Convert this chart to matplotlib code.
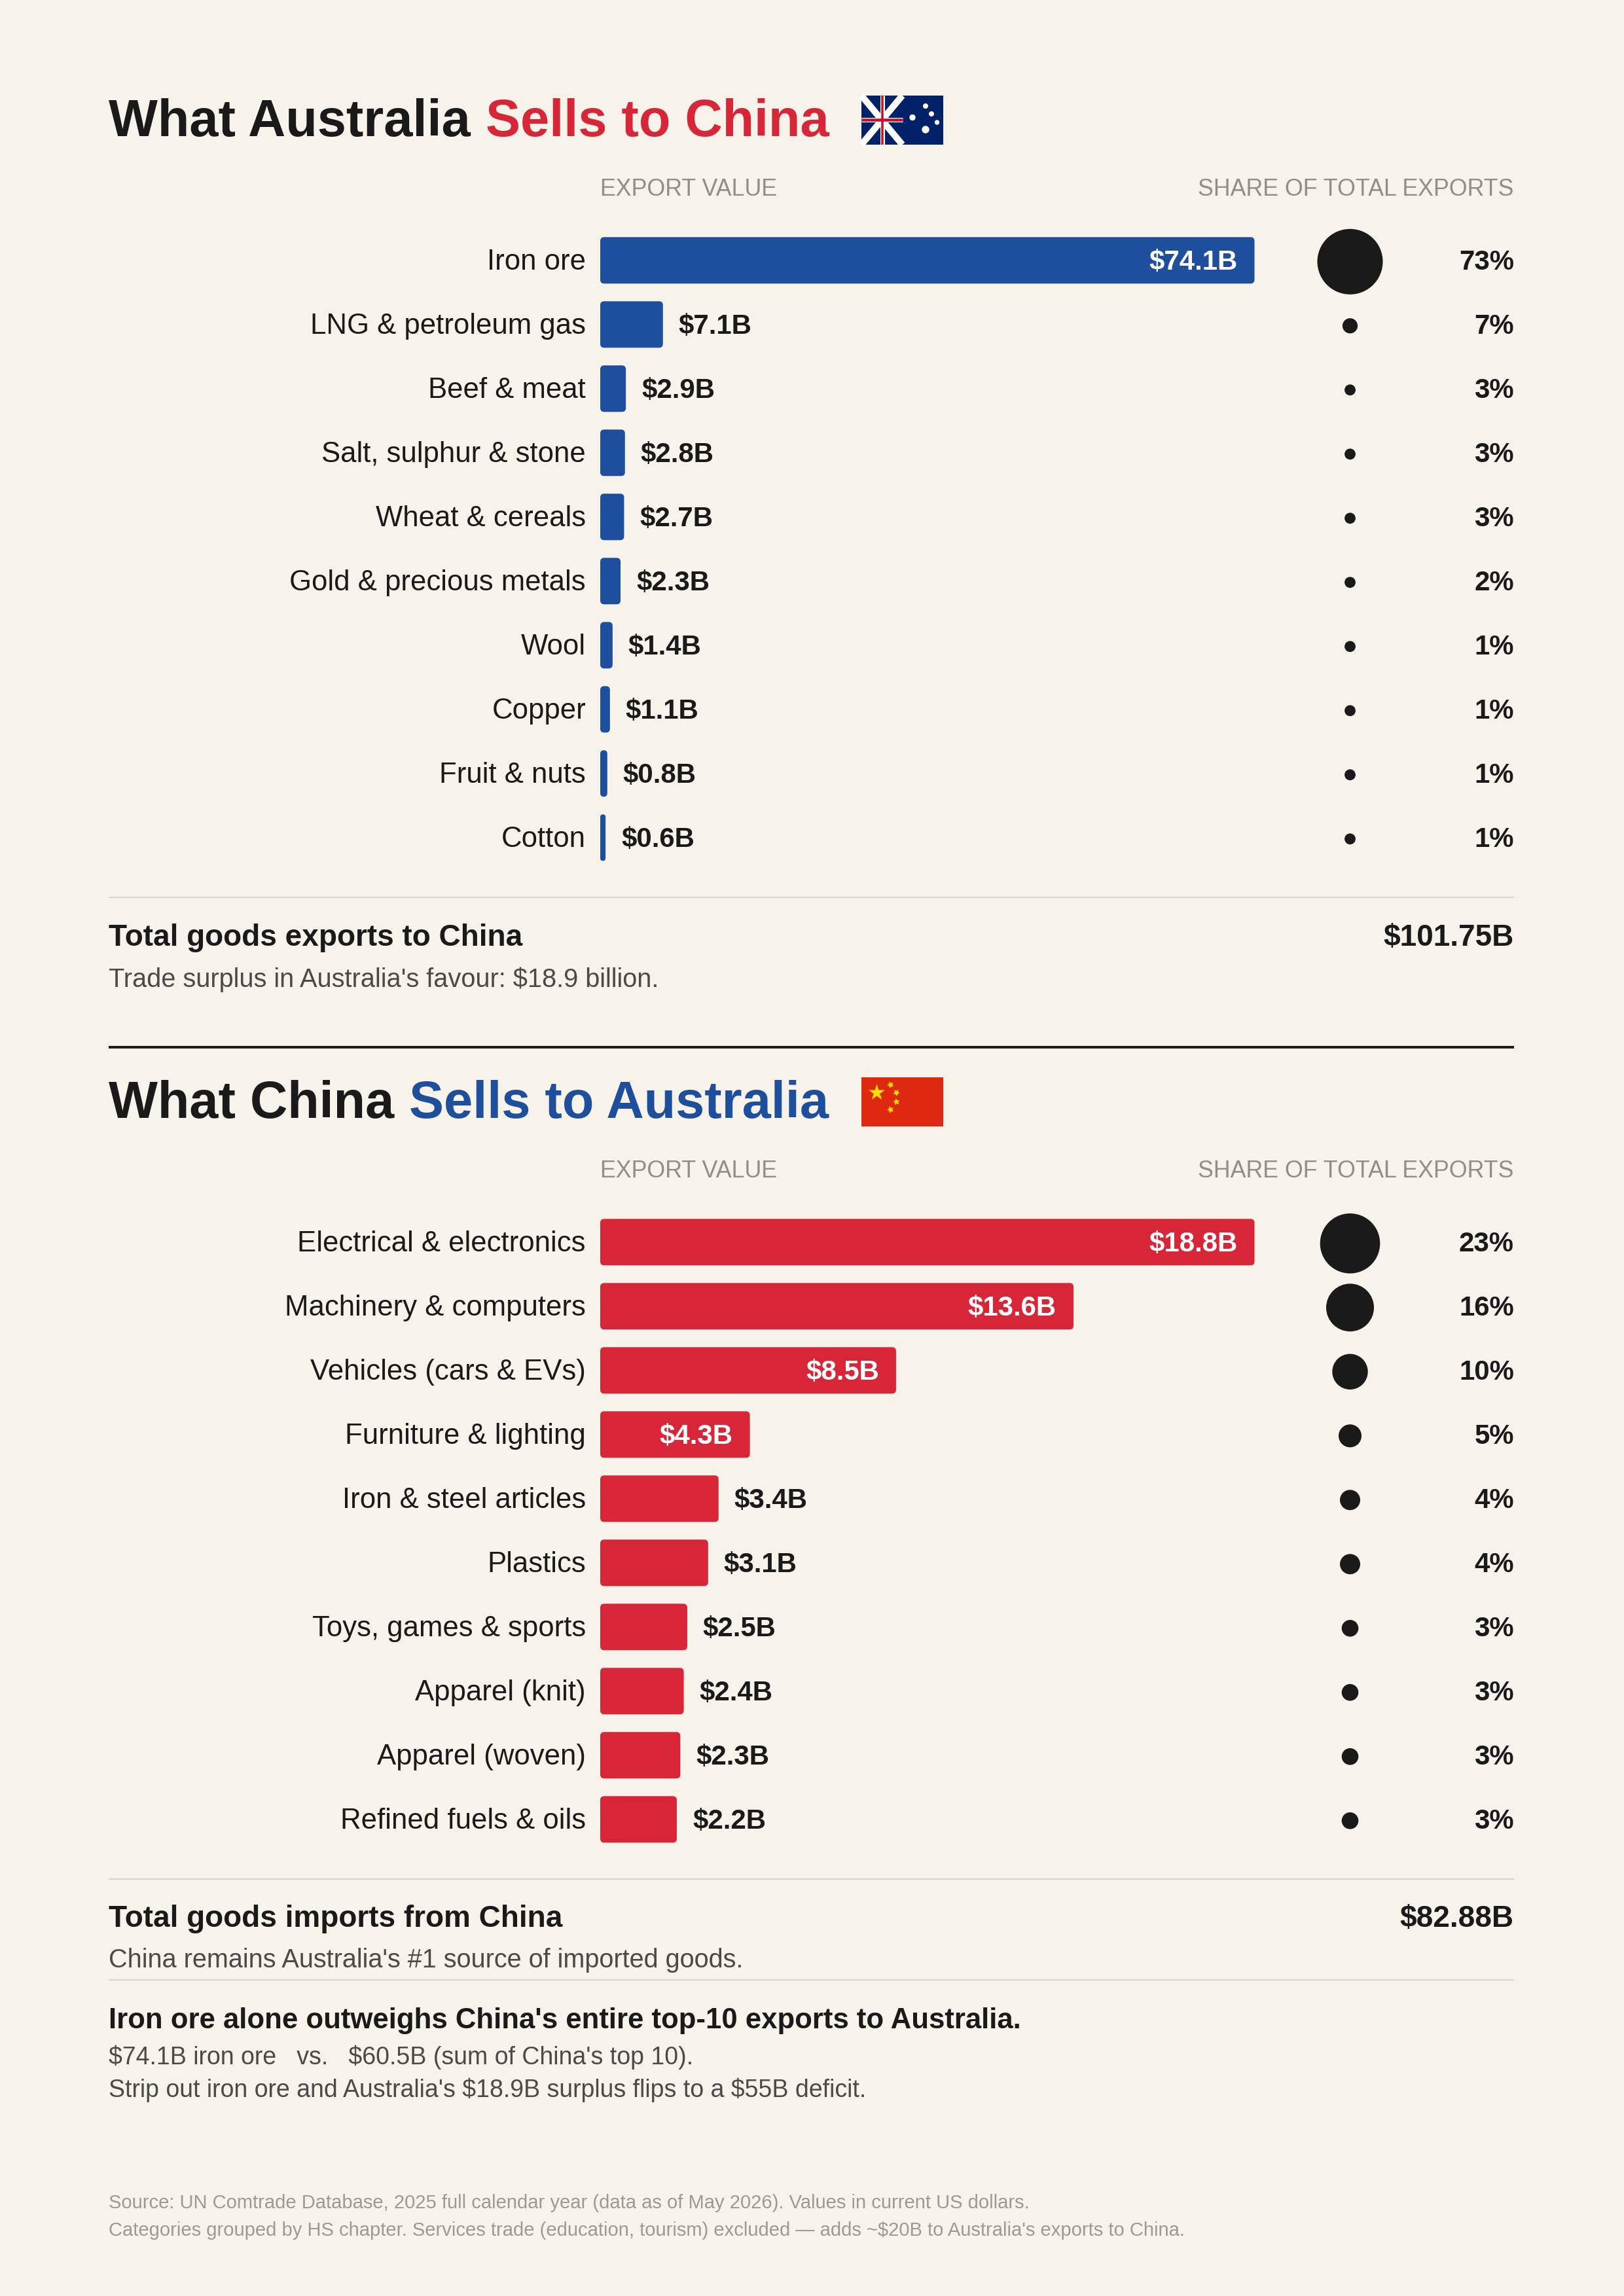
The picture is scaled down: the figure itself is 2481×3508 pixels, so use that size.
import numpy as np
import matplotlib
matplotlib.use("Agg")
import matplotlib.pyplot as plt
from matplotlib.patches import FancyBboxPatch, Rectangle, Circle

plt.rcParams['font.family'] = ['Liberation Sans', 'DejaVu Sans']

W, H = 2481, 3508
DPI = 300

BG = '#F7F3EA'
INK = '#1A1A1A'
SOFT = '#4A4A48'
GREY = '#8E8E8A'
FOOT = '#9A9A96'
RULE = '#D9D5CA'
BLUE = '#1E4F9C'
RED = '#D72638'

au_categories = ['Iron ore', 'LNG & petroleum gas', 'Beef & meat', 'Salt, sulphur & stone',
                 'Wheat & cereals', 'Gold & precious metals', 'Wool', 'Copper',
                 'Fruit & nuts', 'Cotton']
au_values = [74.1, 7.1, 2.9, 2.8, 2.7, 2.3, 1.4, 1.1, 0.8, 0.6]
au_shares = [73, 7, 3, 3, 3, 2, 1, 1, 1, 1]

cn_categories = ['Electrical & electronics', 'Machinery & computers', 'Vehicles (cars & EVs)',
                 'Furniture & lighting', 'Iron & steel articles', 'Plastics',
                 'Toys, games & sports', 'Apparel (knit)', 'Apparel (woven)',
                 'Refined fuels & oils']
cn_values = [18.8, 13.6, 8.5, 4.3, 3.4, 3.1, 2.5, 2.4, 2.3, 2.2]
cn_shares = [23, 16, 10, 5, 4, 4, 3, 3, 3, 3]

# share -> dot radius in pixels
au_size_share = [1, 3, 7, 73]
au_size_radius = [8.4, 8.4, 11.6, 50]
cn_size_share = [3, 4, 5, 10, 16, 23]
cn_size_radius = [12.8, 15.5, 17.5, 27.2, 36.5, 45.8]

BAR_LEFT, BAR_RIGHT = 917, 1916.5
ROW = 98
DOT_X = 2062.5
LEFT, RIGHT = 166, 2313


def px_axes(fig, x0, y0, x1, y1):
    return fig.add_axes([x0 / W, 1 - y1 / H, (x1 - x0) / W, (y1 - y0) / H])


def pt(px):
    return px * 72 / DPI


fig = plt.figure(figsize=(W / DPI, H / DPI), dpi=DPI, facecolor=BG)

# page overlay in pixel units for headings, rules and notes
page = fig.add_axes([0, 0, 1, 1], zorder=5)
page.set_xlim(0, W)
page.set_ylim(H, 0)
page.axis('off')


def note(x, y, s, size, color=INK, weight='normal', ha='left'):
    return page.text(x, y, s, fontsize=size, color=color, fontweight=weight, ha=ha, va='baseline',
                     parse_math=False)


def rule(y, color=RULE, lw=2):
    page.plot([LEFT, RIGHT], [y, y], color=color, lw=pt(lw), solid_capstyle='butt')


def draw_panel(top, first, second, accent, bar_color, categories, values, shares, size_share, size_radius):
    # heading in two colours
    t = note(LEFT, top + 207.7, first, 19.05, weight='bold')
    x1 = t.get_window_extent(fig.canvas.get_renderer()).x1
    note(x1 + 23, top + 207.7, second, 19.05, color=accent, weight='bold')

    note(BAR_LEFT, top + 299, 'EXPORT VALUE', 8.6, color=GREY)
    note(RIGHT, top + 299, 'SHARE OF TOTAL EXPORTS', 8.6, color=GREY, ha='right')

    first_row = top + 397.8
    n = len(values)
    y0 = first_row - ROW / 2
    y1 = first_row + (n - 0.5) * ROW

    ax = px_axes(fig, BAR_LEFT, y0, BAR_RIGHT, y1)
    ax.set_facecolor('none')
    vmax = max(values)
    ax.set_xlim(0, vmax)
    ax.set_ylim(n - 0.5, -0.5)
    ax.axis('off')
    px_x = vmax / (BAR_RIGHT - BAR_LEFT)
    px_y = 1 / ROW
    for i, v in enumerate(values):
        rx = min(6 * px_x, v / 2)
        ax.add_patch(FancyBboxPatch((0, i - 71 * px_y / 2), v, 71 * px_y,
                                    boxstyle=f'round,pad=0,rounding_size={rx}',
                                    mutation_aspect=px_y / px_x,
                                    fc=bar_color, ec='none'))
        base = i + 14 * px_y
        ax.text(-22 * px_x, base, categories[i], color=INK, fontsize=10.5, ha='right', va='baseline',
                clip_on=False)
        label = f'${v}B'
        if v / vmax > 0.2:
            ax.text(v - 26 * px_x, base, label, color='white', fontsize=10.1, fontweight='bold',
                    ha='right', va='baseline')
        else:
            ax.text(v + 24 * px_x, base, label, color=INK, fontsize=10.1, fontweight='bold',
                    ha='left', va='baseline')

    # share dots, sized from the share through a lookup scale
    dots = px_axes(fig, DOT_X - 60, y0 + 2, DOT_X + 60, y1 + 2)
    dots.set_xlim(-1, 1)
    dots.set_ylim(n - 0.5, -0.5)
    dots.axis('off')
    radius = np.interp(shares, size_share, size_radius)
    dots.scatter(np.zeros(n), np.arange(n), s=(2 * pt(radius)) ** 2, color=INK, linewidths=0, clip_on=False)

    for i, sh in enumerate(shares):
        note(RIGHT, first_row + i * ROW + 14, f'{sh}%', 10.1, weight='bold', ha='right')


def draw_au_flag(x, y):
    ax = px_axes(fig, x, y, x + 125, y + 75)
    ax.set_xlim(0, 125)
    ax.set_ylim(75, 0)
    ax.axis('off')
    ax.add_patch(Rectangle((0, 0), 125, 75, fc='#012169', ec='none'))
    ax.plot([0, 62.5], [0, 75], color='white', lw=pt(10), solid_capstyle='butt', clip_on=False)
    ax.plot([0, 62.5], [75, 0], color='white', lw=pt(10), solid_capstyle='butt', clip_on=False)
    ax.plot([31.5, 31.5], [0, 75], color='white', lw=pt(7), solid_capstyle='butt')
    ax.plot([0, 63], [37.3, 37.3], color='white', lw=pt(7), solid_capstyle='butt')
    ax.plot([31.5, 31.5], [0, 75], color='#C8102E', lw=pt(3.5), solid_capstyle='butt')
    ax.plot([0, 63], [37.3, 37.3], color='#C8102E', lw=pt(4.5), solid_capstyle='butt')
    for cx, cy, r in [(78, 33.5, 4.7), (98, 16, 4), (107, 28, 4), (115.5, 41, 3.7), (98, 52, 5.7)]:
        ax.add_patch(Circle((cx, cy), r, fc='white', ec='none'))


def draw_cn_flag(x, y):
    ax = px_axes(fig, x, y, x + 125, y + 75)
    ax.set_xlim(0, 125)
    ax.set_ylim(75, 0)
    ax.axis('off')
    ax.add_patch(Rectangle((0, 0), 125, 75, fc='#DE2910', ec='none'))
    ax.scatter([22.7], [22.5], marker='*', s=(2 * pt(13)) ** 2, color='#FFDE00', linewidths=0)
    for cx, cy, a in [(44, 11, 20), (53, 22.5, 40), (53, 37, 10), (44, 48.5, 20)]:
        ax.scatter([cx], [cy], marker=(5, 1, a), s=(2 * pt(5.4)) ** 2, color='#FFDE00', linewidths=0)


draw_panel(0, 'What Australia', 'Sells to China', RED, BLUE, au_categories, au_values, au_shares,
           au_size_share, au_size_radius)
draw_au_flag(1316, 146)
rule(1371)
note(LEFT, 1445, 'Total goods exports to China', 11.05, weight='bold')
note(RIGHT, 1445, '$101.75B', 11.05, weight='bold', ha='right')
note(LEFT, 1508, "Trade surplus in Australia's favour: $18.9 billion.", 9.55, color=SOFT)

rule(1600, color=INK, lw=4)

draw_panel(1500, 'What China', 'Sells to Australia', BLUE, RED, cn_categories, cn_values, cn_shares,
           cn_size_share, cn_size_radius)
draw_cn_flag(1316, 1646)
rule(2871)
note(LEFT, 2944, 'Total goods imports from China', 11.05, weight='bold')
note(RIGHT, 2944, '$82.88B', 11.05, weight='bold', ha='right')
note(LEFT, 3006.5, "China remains Australia's #1 source of imported goods.", 9.52, color=SOFT)
rule(3025)

note(LEFT, 3099.5, "Iron ore alone outweighs China's entire top-10 exports to Australia.", 10.5, weight='bold')
note(LEFT, 3154, "$74.1B iron ore   vs.   $60.5B (sum of China's top 10).", 9.0, color=SOFT)
note(LEFT, 3203.5, "Strip out iron ore and Australia's $18.9B surplus flips to a $55B deficit.", 9.0, color=SOFT)

note(LEFT, 3374, 'Source: UN Comtrade Database, 2025 full calendar year (data as of May 2026). Values in current US dollars.',
     7.01, color=FOOT)
note(LEFT, 3416, "Categories grouped by HS chapter. Services trade (education, tourism) excluded \u2014 adds ~$20B to Australia's exports to China.",
     7.01, color=FOOT)

fig.savefig('out.png', dpi=DPI, facecolor=BG)
